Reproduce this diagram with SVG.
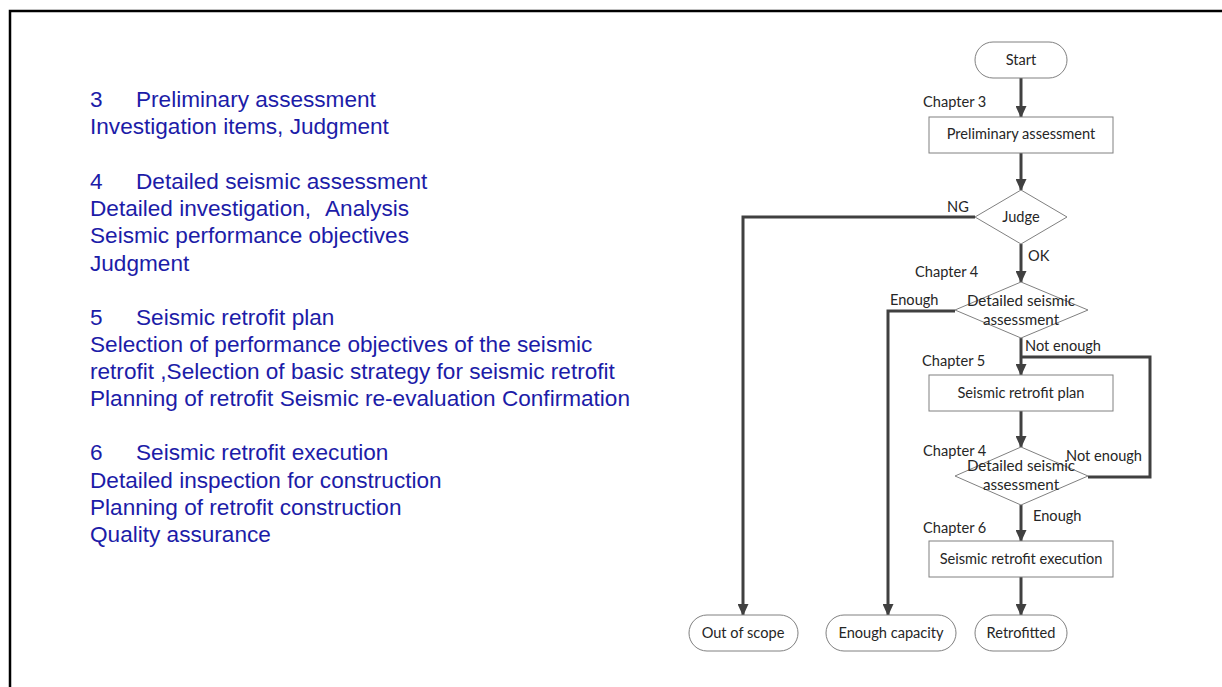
<svg xmlns="http://www.w3.org/2000/svg" width="1222" height="687" viewBox="0 0 1222 687">
<style>
.frame{fill:none;stroke:#000;stroke-width:2.5}
.lt{font-family:"Liberation Sans",Arial,sans-serif;font-size:22.6px;fill:#1c1ca8}
.box{fill:#fff;stroke:#808080;stroke-width:1}
.nt{font-family:Lato,"Open Sans",sans-serif;font-size:14.6px;fill:#262626;text-anchor:middle}
.dt{font-size:15.2px}
.lb{font-family:Lato,"Open Sans",sans-serif;font-size:14.6px;fill:#262626}
.cn{fill:none;stroke:#404040;stroke-width:3}
</style>
<defs>
<marker id="ah" markerWidth="12" markerHeight="11" refX="11" refY="5.5" orient="auto" markerUnits="userSpaceOnUse">
<path d="M0,0 L12,5.5 L0,11 Z" fill="#404040"/>
</marker>
</defs>
<rect width="1222" height="687" fill="#fff"/>
<path class="frame" d="M10,700 V11 H1230"/>
<g id="left-text" class="lt">
<text x="90" y="107">3<tspan x="136">Preliminary assessment</tspan></text>
<text x="90" y="134">Investigation items, Judgment</text>
<text x="90" y="189">4<tspan x="136">Detailed seismic assessment</tspan></text>
<text x="90" y="216">Detailed investigation,<tspan x="325">Analysis</tspan></text>
<text x="90" y="243">Seismic performance objectives</text>
<text x="90" y="271">Judgment</text>
<text x="90" y="325">5<tspan x="136">Seismic retrofit plan</tspan></text>
<text x="90" y="352">Selection of performance objectives of the seismic</text>
<text x="90" y="379">retrofit ,Selection of basic strategy for seismic retrofit</text>
<text x="90" y="406">Planning of retrofit Seismic re-evaluation Confirmation</text>
<text x="90" y="460">6<tspan x="136">Seismic retrofit execution</tspan></text>
<text x="90" y="488">Detailed inspection for construction</text>
<text x="90" y="515">Planning of retrofit construction</text>
<text x="90" y="542">Quality assurance</text>
</g>
<g id="connectors">
<line class="cn" x1="1021" y1="78" x2="1021" y2="117" marker-end="url(#ah)"/>
<line class="cn" x1="1021" y1="153" x2="1021" y2="190" marker-end="url(#ah)"/>
<polyline class="cn" points="975,217 743,217 743,615" marker-end="url(#ah)"/>
<line class="cn" x1="1021" y1="244" x2="1021" y2="282" marker-end="url(#ah)"/>
<polyline class="cn" points="955,311 888,311 888,615" marker-end="url(#ah)"/>
<line class="cn" x1="1021" y1="338" x2="1021" y2="375" marker-end="url(#ah)"/>
<polyline class="cn" points="1088,477 1150,477 1150,357 1021,357"/>
<line class="cn" x1="1021" y1="411" x2="1021" y2="447" marker-end="url(#ah)"/>
<line class="cn" x1="1021" y1="505" x2="1021" y2="541" marker-end="url(#ah)"/>
<line class="cn" x1="1021" y1="577" x2="1021" y2="615" marker-end="url(#ah)"/>
<g class="lb">
<text x="947" y="212">NG</text>
<text x="1028" y="261">OK</text>
<text x="890" y="305">Enough</text>
<text x="1025" y="351">Not enough</text>
<text x="1066" y="461">Not enough</text>
<text x="1033" y="521">Enough</text>
</g>
</g>
<g id="start"><rect class="box" x="975" y="42" width="92" height="36" rx="18"/><text class="nt" x="1021" y="65">Start</text></g>
<g id="prelim"><text class="lb" x="923" y="107">Chapter 3</text><rect class="box" x="929" y="117" width="184" height="36"/><text class="nt" x="1021" y="139">Preliminary assessment</text></g>
<g id="judge"><polygon class="box" points="1021,190 1067,217 1021,244 975,217"/><text class="nt" x="1021" y="222">Judge</text></g>
<g id="detailed1"><text class="lb" x="915" y="277">Chapter 4</text><polygon class="box" points="1021,282 1088,310 1021,338 955,310"/><text class="nt dt" x="1021" y="306">Detailed seismic</text><text class="nt dt" x="1021" y="325">assessment</text></g>
<g id="plan"><text class="lb" x="922" y="366">Chapter 5</text><rect class="box" x="929" y="375" width="184" height="36"/><text class="nt" x="1021" y="398">Seismic retrofit plan</text></g>
<g id="detailed2"><text class="lb" x="923" y="456">Chapter 4</text><polygon class="box" points="1021,447 1088,476 1021,505 955,476"/><text class="nt dt" x="1021" y="471">Detailed seismic</text><text class="nt dt" x="1021" y="490">assessment</text></g>
<g id="execution"><text class="lb" x="923" y="533">Chapter 6</text><rect class="box" x="929" y="541" width="184" height="36"/><text class="nt" x="1021" y="564">Seismic retrofit execution</text></g>
<g id="out-of-scope"><rect class="box" x="689" y="615" width="109" height="36" rx="18"/><text class="nt" x="743" y="638">Out of scope</text></g>
<g id="enough-capacity"><rect class="box" x="826" y="615" width="130" height="36" rx="18"/><text class="nt" x="891" y="638">Enough capacity</text></g>
<g id="retrofitted"><rect class="box" x="975" y="615" width="92" height="36" rx="18"/><text class="nt" x="1021" y="638">Retrofitted</text></g>
</svg>
